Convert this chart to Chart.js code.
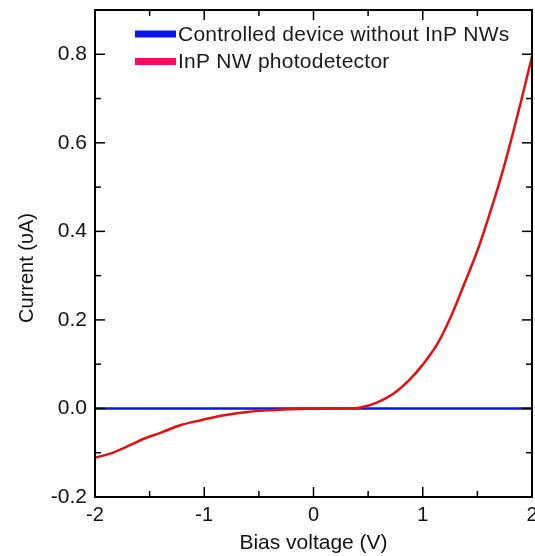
<!DOCTYPE html>
<html>
<head>
<meta charset="utf-8">
<script src="https://cdn.jsdelivr.net/npm/chart.js@4.4.1/dist/chart.umd.min.js"></script>
<style>
  html, body { margin: 0; padding: 0; background: #fff; overflow: hidden; }
  #wrap { width: 535px; height: 556px; }
  #iv { display: block; }
</style>
</head>
<body>
<div id="wrap"><canvas id="iv"></canvas></div>
<script>
// I-V curves
const voltage = [-2.0, -1.86, -1.68, -1.56, -1.4, -1.22, -1.04, -0.83, -0.61, -0.4, -0.15, 0.1, 0.3, 0.43, 0.58, 0.73, 0.88, 1.0, 1.13, 1.25, 1.37, 1.51, 1.63, 1.74, 1.83, 1.9, 2.0];
const nwCurrent = [-0.111, -0.102, -0.083, -0.069, -0.055, -0.038, -0.027, -0.016, -0.008, -0.004, -0.001, 0, 0, 0.002, 0.013, 0.033, 0.065, 0.099, 0.144, 0.203, 0.275, 0.363, 0.453, 0.543, 0.626, 0.694, 0.795];
const ctrlVoltage = [-2, -1, 0, 1, 2];
const ctrlCurrent = [0, 0, 0, 0, 0];

const seriesLabels = ['Controlled device without InP NWs', 'InP NW photodetector'];
const xTicks = [-2, -1, 0, 1, 2];
const yTicks = [-0.2, 0.0, 0.2, 0.4, 0.6, 0.8];

const FONT = 'Liberation Sans, Arial, sans-serif';
const pts = (xs, ys) => xs.map((x, i) => ({ x, y: ys[i] }));

// frame, inward ticks, y title, legend inside the plot
const decor = {
  id: 'decor',
  afterDraw(chart) {
    const { ctx, chartArea: a, scales: { x, y } } = chart;
    ctx.save();
    ctx.strokeStyle = '#000';
    ctx.lineWidth = 2;
    ctx.strokeRect(a.left, a.top, a.right - a.left, a.bottom - a.top);

    ctx.lineWidth = 1.5;
    const tick = (x1, y1, x2, y2) => { ctx.beginPath(); ctx.moveTo(x1, y1); ctx.lineTo(x2, y2); ctx.stroke(); };
    for (let v = -2; v <= 2.001; v += 0.5) {
      const px = x.getPixelForValue(v);
      const len = Math.abs(v % 1) < 0.01 ? 10 : 6;
      tick(px, a.bottom, px, a.bottom - len);
      tick(px, a.top, px, a.top + len);
    }
    for (let v = -0.2; v <= 0.901; v += 0.1) {
      const py = y.getPixelForValue(v);
      const len = Math.round(v * 10) % 2 === 0 ? 10 : 6;
      tick(a.left, py, a.left + len, py);
      tick(a.right, py, a.right - len, py);
    }

    ctx.fillStyle = '#111';
    ctx.font = '20px ' + FONT;
    ctx.textAlign = 'center';
    ctx.textBaseline = 'middle';
    ctx.translate(27, 268);
    ctx.rotate(-Math.PI / 2);
    ctx.fillText('Current (\u03C5A)', 0, 0);
    ctx.restore();

    ctx.save();
    const legendColors = ['#0a14f0', '#ff0a5a'];
    ctx.font = '21px ' + FONT;
    ctx.letterSpacing = '0.25px';
    ctx.textBaseline = 'middle';
    seriesLabels.forEach((lab, i) => {
      const cy = 34 + i * 27.5;
      ctx.fillStyle = legendColors[i];
      ctx.fillRect(135, cy - 3.5, 41, 7);
      ctx.fillStyle = '#1a1a1a';
      ctx.fillText(lab, 178, cy + 1);
    });
    ctx.restore();
  }
};

new Chart(document.getElementById('iv'), {
  type: 'line',
  data: {
    datasets: [
      { label: seriesLabels[0], data: pts(ctrlVoltage, ctrlCurrent), borderColor: '#0a14e6', borderWidth: 2.5, pointRadius: 0, order: 1 },
      { label: seriesLabels[1], data: pts(voltage, nwCurrent), borderColor: '#e60f0f', borderWidth: 2.5, pointRadius: 0, cubicInterpolationMode: 'monotone', order: 0 },
    ],
  },
  options: {
    responsive: true,
    maintainAspectRatio: false,
    animation: false,
    layout: { padding: { top: 10, right: 3, left: 0, bottom: 0 } },
    plugins: { legend: { display: false }, tooltip: { enabled: false } },
    scales: {
      x: {
        type: 'linear', min: -2, max: 2,
        afterBuildTicks: (s) => { s.ticks = xTicks.map((v) => ({ value: v })); },
        afterFit: (s) => { s.height = 59; s.paddingLeft = 0; s.paddingRight = 0; },
        grid: { display: false, drawTicks: false },
        border: { display: false },
        ticks: { color: '#111', font: { family: FONT, size: 20 }, padding: 6 },
        title: { display: true, text: 'Bias voltage (V)', color: '#111', font: { family: FONT, size: 21 }, padding: { top: 5, bottom: 0 } },
      },
      y: {
        type: 'linear', min: -0.2, max: 0.9,
        afterBuildTicks: (s) => { s.ticks = yTicks.map((v) => ({ value: v })); },
        afterFit: (s) => { s.width = 95; s.paddingTop = 0; s.paddingBottom = 0; },
        grid: { display: false, drawTicks: false },
        border: { display: false },
        ticks: { color: '#111', font: { family: FONT, size: 21 }, padding: 8, callback: (v) => Number(v).toFixed(1) },
      },
    },
  },
  plugins: [decor],
});
</script>
</body>
</html>
